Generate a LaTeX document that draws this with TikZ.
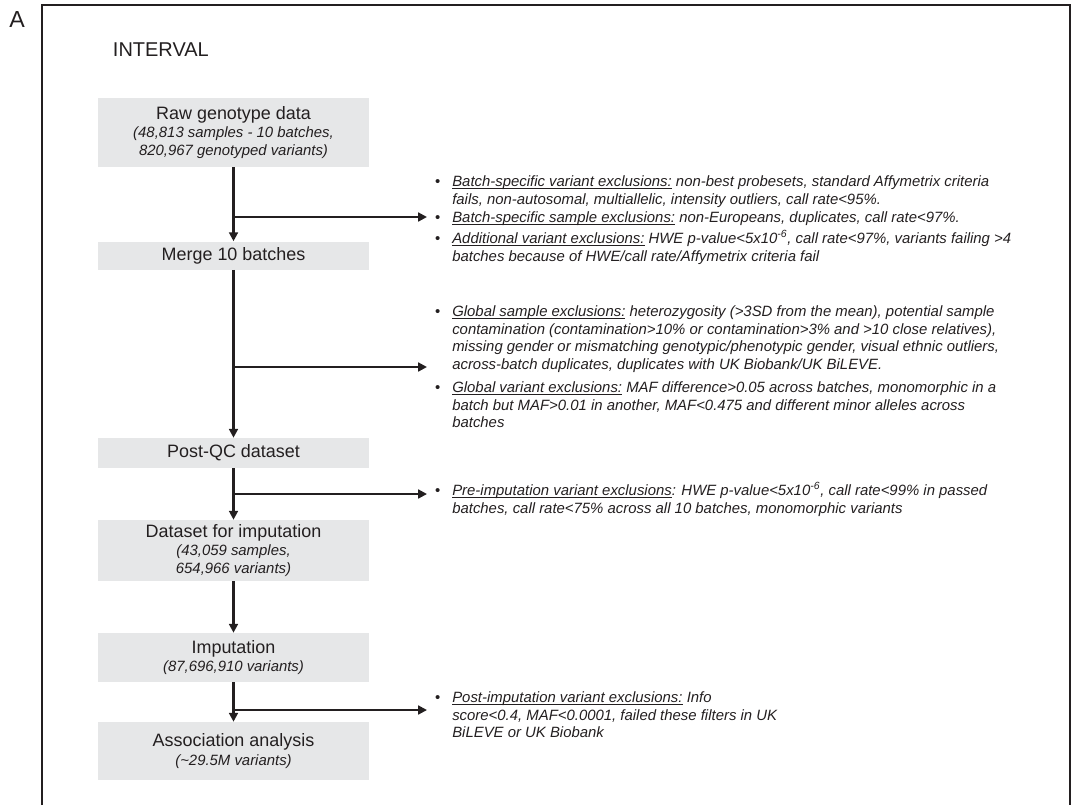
\documentclass[tikz,border=0pt]{standalone}
\usepackage{fontspec}
\setmainfont{Liberation Sans}
\definecolor{boxgray}{HTML}{E6E7E8}
\definecolor{inkdark}{HTML}{231F20}
\usetikzlibrary{arrows.meta,positioning}
\newcommand{\subline}[1]{{\fontsize{10.6}{13}\selectfont\itshape #1}}
\newcommand{\bulmark}{\llap{\upshape\textbullet\hspace{0.3cm}}}
\newcommand{\ulab}[1]{\underline{\smash{#1}}}

\begin{document}
\begin{tikzpicture}[x=0.025cm,y=-0.025cm,
  box/.style={fill=boxgray,minimum width=6.775cm,inner sep=0pt,align=center,text=inkdark,font=\fontsize{12.76}{13}\selectfont},
  bul/.style={anchor=north west,inner sep=0pt,align=left,text=inkdark,font=\fontsize{10.6}{12.76}\selectfont\itshape},
  flow/.style={draw=inkdark,line width=1.5pt,-{Triangle[length=0.22cm,width=0.22cm]}}]
  \useasboundingbox (0,0) rectangle (1075,805);

  % Panel frame and titles
  \draw[inkdark,line width=1pt] (42,805) -- (42,5) -- (1070,5) -- (1070,805);
  \node[text=inkdark,font=\fontsize{16.5}{18}\selectfont] (panel) at (17,20) {A};
  \node[text=inkdark,font=\fontsize{14.2}{16}\selectfont,anchor=west] (cohort) at (108,50) {INTERVAL};

  % Pipeline boxes
  \node[box,minimum height=1.725cm] (raw) at (233.5,132.5) {Raw genotype data\\\subline{(48,813 samples - 10 batches,}\\\subline{820,967 genotyped variants)}};
  \node[box,minimum height=0.7cm] (merge) at (233.5,255.5) {Merge 10 batches};
  \node[box,minimum height=0.75cm] (postqc) at (233.5,453) {Post-QC dataset};
  \node[box,minimum height=1.525cm] (dataset) at (233.5,550.5) {Dataset for imputation\\\subline{(43,059 samples,}\\\subline{654,966 variants)}};
  \node[box,minimum height=1.225cm] (imput) at (233.5,657.5) {Imputation\\\subline{(87,696,910 variants)}};
  \node[box,minimum height=1.45cm] (assoc) at (233.5,751) {Association analysis\\\subline{(\textasciitilde29.5M variants)}};

  % Exclusion lists
  \node[bul] (bsv) at (452,175) {\bulmark\ulab{Batch-specific variant exclusions:} non-best probesets, standard Affymetrix criteria\\fails, non-autosomal, multiallelic, intensity outliers, call rate<95\%.};
  \node[bul] (bss) at (452,211) {\bulmark\ulab{Batch-specific sample exclusions:} non-Europeans, duplicates, call rate<97\%.};
  \node[bul] (bav) at (452,230) {\bulmark\ulab{Additional variant exclusions:} HWE p-value<5x10\textsuperscript{-6}, call rate<97\%, variants failing >4\\batches because of HWE/call rate/Affymetrix criteria fail};
  \node[bul] (gse) at (452,305) {\bulmark\ulab{Global sample exclusions:} heterozygosity (>3SD from the mean), potential sample\\contamination (contamination>10\% or contamination>3\% and >10 close relatives),\\missing gender or mismatching genotypic/phenotypic gender, visual ethnic outliers,\\across-batch duplicates, duplicates with UK Biobank/UK BiLEVE.};
  \node[bul] (gve) at (452,381) {\bulmark\ulab{Global variant exclusions:} MAF difference>0.05 across batches, monomorphic in a\\batch but MAF>0.01 in another, MAF<0.475 and different minor alleles across\\batches};
  \node[bul] (pre) at (452,482) {\bulmark\ulab{Pre-imputation variant exclusions}: HWE p-value<5x10\textsuperscript{-6}, call rate<99\% in passed\\batches, call rate<75\% across all 10 batches, monomorphic variants};
  \node[bul] (post) at (452,691) {\bulmark\ulab{Post-imputation variant exclusions:} Info\\score<0.4, MAF<0.0001, failed these filters in UK\\BiLEVE or UK Biobank};

  % Main flow
  \draw[flow] (raw) -- (merge);
  \draw[flow] (merge) -- (postqc);
  \draw[flow] (postqc) -- (dataset);
  \draw[flow] (dataset) -- (imput);
  \draw[flow] (imput) -- (assoc);

  % Side branches
  \coordinate (j1) at (233.5,217);
  \coordinate (e1) at (427,217);
  \coordinate (j2) at (233.5,367);
  \coordinate (e2) at (427,367);
  \coordinate (j3) at (233.5,494);
  \coordinate (e3) at (427,494);
  \coordinate (j4) at (233.5,710);
  \coordinate (e4) at (427,710);
  \draw[flow] (j1) -- (e1);
  \draw[flow] (j2) -- (e2);
  \draw[flow] (j3) -- (e3);
  \draw[flow] (j4) -- (e4);
\end{tikzpicture}
\end{document}
